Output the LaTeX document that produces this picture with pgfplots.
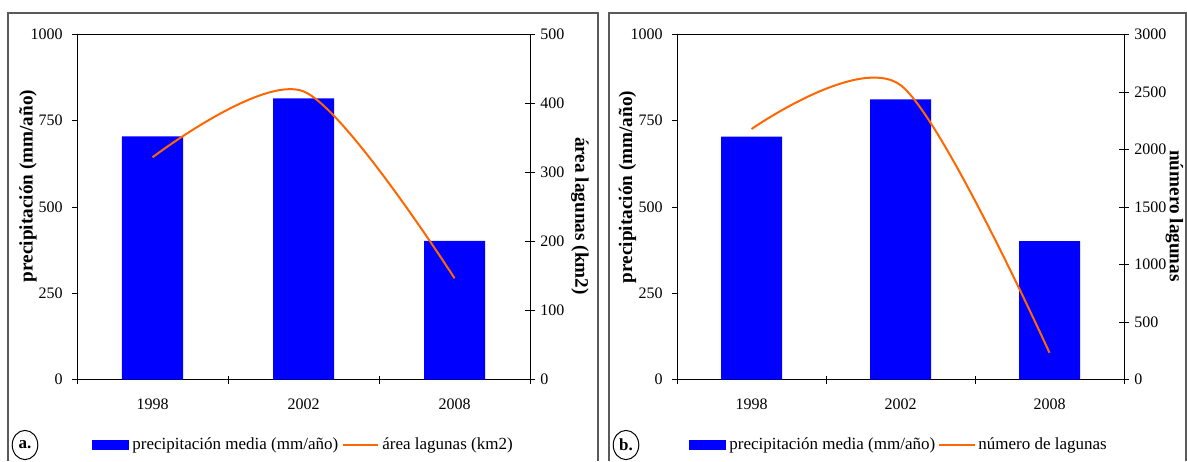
\documentclass[border=0pt]{standalone}
\usepackage{pgfplots}
\pgfplotsset{compat=1.18}
\usepackage{fontspec}
\setmainfont{Liberation Serif}

\definecolor{barblue}{RGB}{0,0,255}
\definecolor{lineorange}{RGB}{255,102,0}
\definecolor{framegray}{RGB}{90,90,90}

\newcommand\tickfont{\fontsize{8}{9.6}\selectfont}
\newcommand\labfont{\fontsize{9.6}{11}\selectfont\bfseries}
\newcommand\legfont{\fontsize{8.5}{10}\selectfont}

\pgfplotsset{
  panel/.style={
    scale only axis, width=#1, height=172.5pt,
    xmin=0.5, xmax=3.5, ymin=0,
    axis line style={black, line width=0.5pt},
    /pgf/number format/assume math mode=true,
    /pgf/number format/1000 sep={},
    tick label style={font=\tickfont},
    scaled y ticks=false,
    clip=false,
  },
  barsaxis/.style={
    ymax=1000, ytick={0,250,500,750,1000},
    xtick={1,2,3}, xticklabels={1998,2002,2008},
    minor xtick={0.5,1.5,2.5,3.5},
    xtick pos=bottom, ytick pos=left,
    ytick align=outside, xtick align=center,
    major tick length=2.5pt, minor tick length=4pt,
    major x tick style={draw=none},
    minor x tick style={black, line width=0.5pt},
    y tick style={black, line width=0.5pt},
    xticklabel style={inner sep=0pt, anchor=north, yshift=-8pt},
    yticklabel style={inner sep=0pt, anchor=east, xshift=-4.5pt},
  },
  lineaxis/.style={
    hide x axis, axis y line*=right,
    ytick align=center, major tick length=5pt,
    y tick style={black, line width=0.5pt},
    yticklabel style={inner sep=0pt, anchor=west, xshift=2.5pt},
  },
}

\begin{document}
\begin{tikzpicture}
\useasboundingbox (0,0) rectangle (593.5pt,230.5pt);

% panel frames
\draw[framegray, line width=1pt] (4pt,0) -- (4pt,224pt) -- (299pt,224pt) -- (299pt,0);
\draw[framegray, line width=1pt] (304.5pt,0) -- (304.5pt,224pt) -- (593pt,224pt) -- (593pt,0);

% ---------- panel a ----------
\begin{axis}[panel=226.5pt, barsaxis, at={(38.5pt,40.75pt)}, anchor=south west,
  ylabel={precipitación (mm/año)},
  every axis y label/.style={at={(axis description cs:-0.108,0.561)}, rotate=90, anchor=center, font=\labfont}]
\addplot[ybar, bar width=30.5pt, fill=barblue, draw=none] coordinates {(1,705) (2,815) (3,402)};
\end{axis}
\begin{axis}[panel=226.5pt, lineaxis, at={(38.5pt,40.75pt)}, anchor=south west,
  ymax=500, ytick={0,100,200,300,400,500},
  ylabel={área lagunas (km2)},
  every axis y label/.style={at={(axis description cs:1.110,0.474)}, rotate=-90, anchor=center, font=\labfont}]
\addplot[lineorange, line width=1pt, smooth, tension=0.5] coordinates {(1,322) (2,417.6) (3,146.8)};
\end{axis}

% ---------- panel b ----------
\begin{axis}[panel=223.5pt, barsaxis, at={(338.5pt,40.75pt)}, anchor=south west,
  ylabel={precipitación (mm/año)},
  every axis y label/.style={at={(axis description cs:-0.111,0.558)}, rotate=90, anchor=center, font=\labfont}]
\addplot[ybar, bar width=30.5pt, fill=barblue, draw=none] coordinates {(1,704) (2,812) (3,401)};
\end{axis}
\begin{axis}[panel=223.5pt, lineaxis, at={(338.5pt,40.75pt)}, anchor=south west,
  ymax=3000, ytick={0,500,1000,1500,2000,2500,3000},
  ylabel={número lagunas},
  every axis y label/.style={at={(axis description cs:1.1125,0.474)}, rotate=-90, anchor=center, font=\labfont}]
\addplot[lineorange, line width=1pt, smooth, tension=0.5] coordinates {(1,2178) (2,2560) (3,232)};
\end{axis}

% legends
\fill[barblue] (46pt,5.5pt) rectangle (64.25pt,10.5pt);
\node[anchor=west, inner sep=0pt, font=\legfont] at (66pt,8pt) {precipitación media (mm/año)};
\draw[lineorange, line width=1pt] (171.25pt,8pt) -- (189pt,8pt);
\node[anchor=west, inner sep=0pt, font=\legfont] at (191pt,8pt) {área lagunas (km2)};
\draw[black, line width=0.5pt] (12.5pt,8pt) ellipse (6.4pt and 7.3pt);
\node[inner sep=0pt, font=\legfont\bfseries] at (12.5pt,8pt) {a.};

\fill[barblue] (344.5pt,5.5pt) rectangle (362.75pt,10.5pt);
\node[anchor=west, inner sep=0pt, font=\legfont] at (364.5pt,8pt) {precipitación media (mm/año)};
\draw[lineorange, line width=1pt] (469.5pt,8pt) -- (487.25pt,8pt);
\node[anchor=west, inner sep=0pt, font=\legfont] at (489pt,8pt) {número de lagunas};
\draw[black, line width=0.5pt] (313pt,8pt) ellipse (6.4pt and 7.3pt);
\node[inner sep=0pt, font=\legfont\bfseries] at (313pt,8pt) {b.};
\end{tikzpicture}
\end{document}
